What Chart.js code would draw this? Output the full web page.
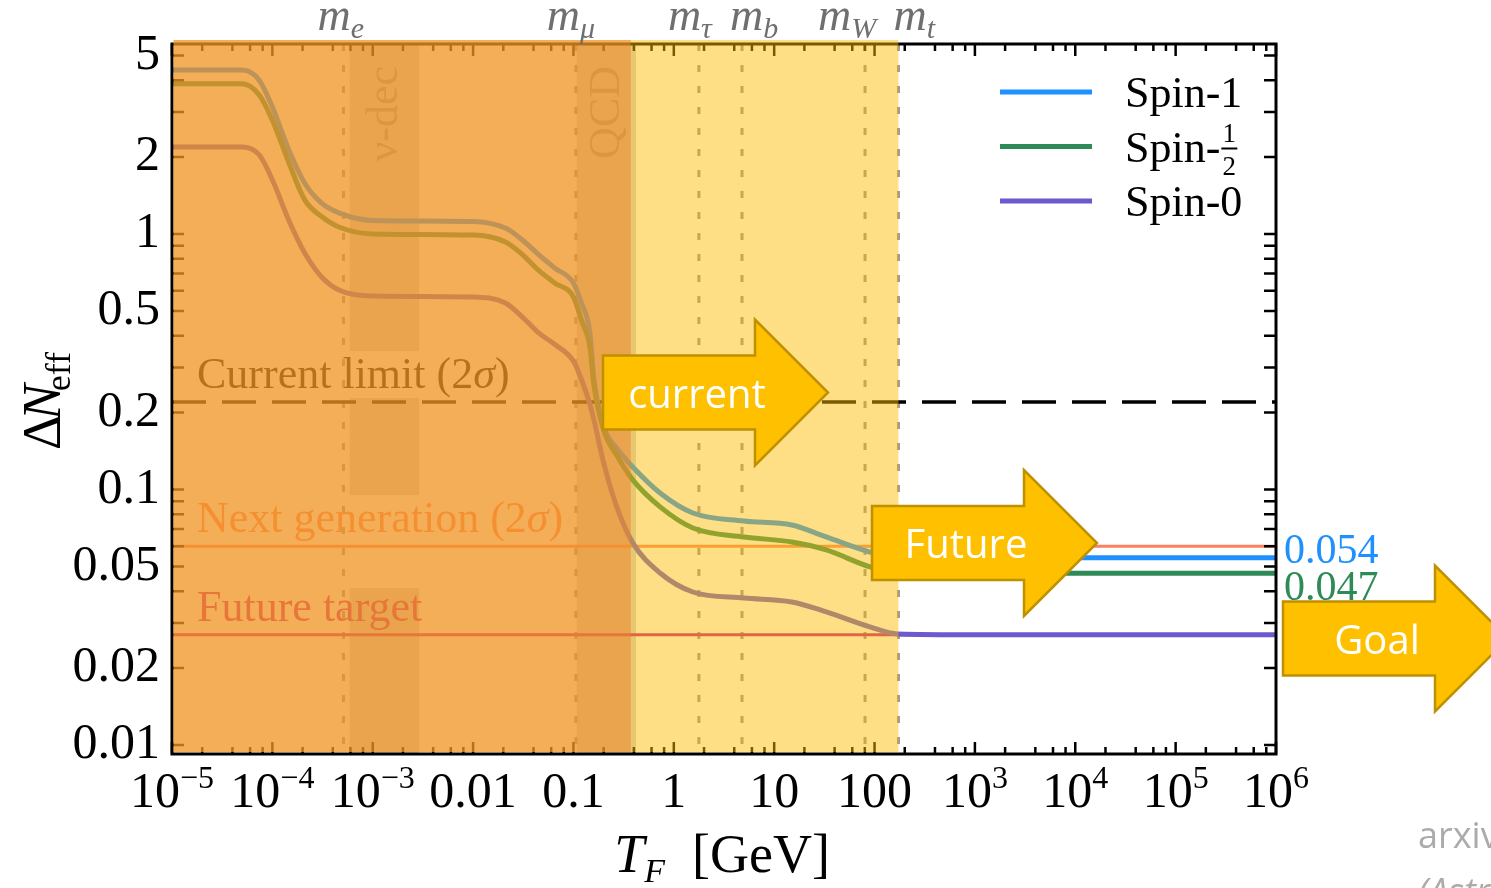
<!DOCTYPE html>
<html>
<head>
<meta charset="utf-8">
<script src="https://cdn.jsdelivr.net/npm/chart.js@4.4.1/dist/chart.umd.min.js"></script>
<style>
  html, body { margin: 0; padding: 0; background: #fff; }
</style>
</head>
<body>
<canvas id="neffChart" width="1491" height="888"></canvas>
<script>
// decoupling temperature grid (GeV) and Delta N_eff
const temps = [1e-5, 5e-5, 7.4e-5, 1e-4, 1.46e-4, 2.1e-4, 3.1e-4, 4.6e-4, 1e-3, 0.01,
    0.021, 0.031, 0.045, 0.065, 0.1, 0.12, 0.146, 0.16, 0.2, 0.27,
    0.39, 0.73, 1.55, 5, 15, 33, 90, 170, 1e3, 1e6];
const spin1 = [4.38, 4.38, 4.0, 3.14, 2.13, 1.58, 1.32, 1.21, 1.13, 1.12,
    1.055, 0.947, 0.83, 0.736, 0.643, 0.537, 0.41, 0.27, 0.176, 0.145,
    0.1225, 0.0969, 0.0809, 0.0753, 0.0726, 0.0652, 0.0569, 0.0544, 0.054, 0.054];
const spinHalf = [3.87, 3.87, 3.5, 2.79, 1.90, 1.36, 1.17, 1.065, 1.0, 0.99,
    0.93, 0.83, 0.72, 0.643, 0.567, 0.46, 0.36, 0.256, 0.171, 0.136,
    0.109, 0.0855, 0.0707, 0.0652, 0.0623, 0.058, 0.0498, 0.0471, 0.047, 0.047];
const spin0 = [2.19, 2.19, 2.04, 1.63, 1.13, 0.843, 0.679, 0.604, 0.572, 0.567,
    0.537, 0.473, 0.41, 0.37, 0.318, 0.27, 0.215, 0.187, 0.127, 0.0855,
    0.0618, 0.0471, 0.0397, 0.0376, 0.0363, 0.0332, 0.029, 0.0272, 0.027, 0.027];

const seriesNames = ['Spin-1', 'Spin-1/2', 'Spin-0'];
const seriesColors = ['#1e90ff', '#2e8b57', '#6a5acd'];
const endLabels = ['0.054', '0.047'];

const limitValues = [0.22, 0.06, 0.027];
const limitNames = ['Current limit (2', 'Next generation (2', 'Future target'];
const limitColors = ['#000000', '#fc825f', '#c71585'];

const massNames = ['e', 'μ', 'τ', 'b', 'W', 't'];
const massValues = [0.000511, 0.1057, 1.777, 4.78, 80.4, 173];

const nuDecBand = [5.9e-4, 2.9e-3];
const qcdBand = [0.108, 0.42];
const hotRegion = [1e-5, 0.373];
const warmRegion = [0.373, 173];

const yTickValues = [0.01, 0.02, 0.05, 0.1, 0.2, 0.5, 1, 2, 5];
const xTickPowers = [-5, -4, -3, -2, -1, 0, 1, 2, 3, 4, 5, 6];

const arrowNames = ['current', 'Future', 'Goal'];

// style bits (pixels)
const massLabelDx = [-26, -29, -31, -12, -47, -5];
const labelBoxDrop = [10, 56, 0];
const arrowLeft = [603, 872, 1283];
const arrowMid = [392.5, 543, 638.5];
const SERIF = '"Liberation Serif", "Times New Roman", serif';

function pts(vals) {
    return temps.map((t, i) => ({ x: t, y: vals[i] }));
}

// parts: [text, font, dy, dx]
function rich(ctx, x, y, parts, align) {
    let w = 0;
    parts.forEach(p => { ctx.font = p[1]; w += ctx.measureText(p[0]).width + (p[3] || 0); });
    let cx = align === 'center' ? x - w / 2 : (align === 'right' ? x - w : x);
    ctx.textAlign = 'left';
    parts.forEach(p => {
        ctx.font = p[1];
        cx += p[3] || 0;
        ctx.fillText(p[0], cx, y + (p[2] || 0));
        cx += ctx.measureText(p[0]).width;
    });
    return w;
}

function drawArrow(ctx, x0, cy, text) {
    const bw = 152, bh = 74, hw = 73, hh = 146;
    ctx.beginPath();
    ctx.moveTo(x0, cy - bh / 2);
    ctx.lineTo(x0 + bw, cy - bh / 2);
    ctx.lineTo(x0 + bw, cy - hh / 2);
    ctx.lineTo(x0 + bw + hw, cy);
    ctx.lineTo(x0 + bw, cy + hh / 2);
    ctx.lineTo(x0 + bw, cy + bh / 2);
    ctx.lineTo(x0, cy + bh / 2);
    ctx.closePath();
    ctx.fillStyle = '#ffc000';
    ctx.fill();
    ctx.lineWidth = 2.5;
    ctx.strokeStyle = '#bf9000';
    ctx.setLineDash([]);
    ctx.stroke();
    ctx.fillStyle = '#fff';
    ctx.font = '40px "Open Sans", Lato, sans-serif';
    ctx.textAlign = 'center';
    ctx.textBaseline = 'alphabetic';
    ctx.fillText(text, x0 + bw / 2 + 18, cy + 15);
}

const decor = {
    id: 'decor',
    beforeDatasetsDraw(chart) {
        const { ctx, chartArea: a, scales: { x, y } } = chart;
        ctx.save();
        // grey bands for nu decoupling and QCD transition
        ctx.fillStyle = '#d4d4d4';
        [nuDecBand, qcdBand].forEach(b => {
            const x0 = x.getPixelForValue(b[0]), x1 = x.getPixelForValue(b[1]);
            ctx.fillRect(x0, a.top, x1 - x0, a.bottom - a.top);
        });
        // band names
        ctx.fillStyle = '#9c9c9c';
        ctx.textBaseline = 'alphabetic';
        [[nuDecBand, 'ν-dec', 44], [qcdBand, 'QCD', 44]].forEach(b => {
            const xc = (x.getPixelForValue(b[0][0]) + x.getPixelForValue(b[0][1])) / 2;
            ctx.save();
            ctx.translate(xc + 13, a.top + 22);
            ctx.rotate(-Math.PI / 2);
            ctx.font = b[2] + 'px ' + SERIF;
            ctx.textAlign = 'right';
            ctx.fillText(b[1], 0, 0);
            ctx.restore();
        });
        // label boxes and labels of the limit lines
        ctx.textBaseline = 'alphabetic';
        limitNames.forEach((name, i) => {
            const base = y.getPixelForValue(limitValues[i]) - 14;
            const parts = [[name, '44px ' + SERIF]];
            if (name.endsWith('(2')) {
                parts.push(['σ', 'italic 44px ' + SERIF]);
                parts.push([')', '44px ' + SERIF]);
            }
            let w = 0;
            parts.forEach(p => { ctx.font = p[1]; w += ctx.measureText(p[0]).width; });
            if (labelBoxDrop[i]) {
                ctx.fillStyle = '#fff';
                ctx.fillRect(a.left + 21, base - 37, w + 8, 37 + labelBoxDrop[i]);
            }
            ctx.fillStyle = limitColors[i];
            rich(ctx, a.left + 25, base, parts, 'left');
        });
        // dotted lines at particle masses
        ctx.strokeStyle = '#969696';
        ctx.lineWidth = 3;
        ctx.setLineDash([7, 14]);
        massValues.forEach(m => {
            const px = x.getPixelForValue(m);
            ctx.beginPath();
            ctx.moveTo(px, a.top);
            ctx.lineTo(px, a.bottom);
            ctx.stroke();
        });
        ctx.restore();
    },
    afterDatasetsDraw(chart) {
        const { ctx, chartArea: a, scales: { x, y } } = chart;
        ctx.save();
        ctx.setLineDash([]);
        // frame and inward ticks
        ctx.strokeStyle = '#000';
        ctx.lineWidth = 3;
        ctx.strokeRect(a.left, a.top, a.right - a.left, a.bottom - a.top);
        ctx.lineWidth = 2.5;
        ctx.beginPath();
        for (let p = -5; p <= 6; p++) {
            [1, 2, 4, 6, 8].forEach(k => {
                const v = k * Math.pow(10, p);
                if (v > 1e6 * 1.0001) return;
                const px = x.getPixelForValue(v);
                const len = k === 1 ? 12 : 7;
                ctx.moveTo(px, a.bottom); ctx.lineTo(px, a.bottom - len);
                ctx.moveTo(px, a.top); ctx.lineTo(px, a.top + len);
            });
        }
        for (let p = -3; p <= 0; p++) {
            for (let k = 1; k <= 9; k++) {
                const v = k * Math.pow(10, p);
                if (v < y.min || v > y.max) continue;
                const py = y.getPixelForValue(v);
                ctx.moveTo(a.left, py); ctx.lineTo(a.left + 12, py);
                ctx.moveTo(a.right, py); ctx.lineTo(a.right - 12, py);
            }
        }
        ctx.stroke();

        // excluded / constrained regions laid over everything inside
        const hx0 = a.left + 1.5, hx1 = x.getPixelForValue(hotRegion[1]);
        const wx1 = x.getPixelForValue(warmRegion[1]);
        ctx.fillStyle = 'rgba(241,149,34,0.76)';
        ctx.fillRect(hx0, a.top - 4, hx1 - hx0, a.bottom - 2 - (a.top - 4));
        ctx.fillStyle = 'rgba(252,188,0,0.48)';
        ctx.fillRect(hx1, a.top - 4, wx1 - hx1, a.bottom - 2 - (a.top - 4));

        // arrows
        arrowNames.forEach((t, i) => drawArrow(ctx, arrowLeft[i], arrowMid[i], t));

        // legend
        ctx.textBaseline = 'alphabetic';
        seriesNames.forEach((name, i) => {
            const ly = 92 + i * 54.5;
            ctx.strokeStyle = seriesColors[i];
            ctx.lineWidth = 5;
            ctx.beginPath();
            ctx.moveTo(1000, ly); ctx.lineTo(1092, ly);
            ctx.stroke();
            ctx.fillStyle = '#000';
            ctx.font = '44px ' + SERIF;
            ctx.textAlign = 'left';
            if (name.endsWith('1/2')) {
                ctx.fillText('Spin-', 1125, ly + 15);
                const fx = 1125 + ctx.measureText('Spin-').width + 9;
                ctx.font = '27px ' + SERIF;
                ctx.textAlign = 'center';
                ctx.fillText('1', fx, ly - 5);
                ctx.fillText('2', fx, ly + 28);
                ctx.fillRect(fx - 8, ly + 1, 16, 2);
            } else {
                ctx.fillText(name, 1125, ly + 15);
            }
        });

        // values reached above the top mass
        ctx.font = '42px ' + SERIF;
        ctx.textAlign = 'left';
        ctx.fillStyle = seriesColors[0];
        ctx.fillText(endLabels[0], a.right + 8, y.getPixelForValue(spin1[spin1.length - 1]) + 5);
        ctx.fillStyle = seriesColors[1];
        ctx.fillText(endLabels[1], a.right + 8, y.getPixelForValue(spinHalf[spinHalf.length - 1]) + 27);

        // mass labels on top
        ctx.fillStyle = '#6f6f6f';
        massNames.forEach((n, i) => {
            const px = x.getPixelForValue(massValues[i]) + massLabelDx[i];
            rich(ctx, px, 30, [['m', 'italic 46px ' + SERIF], [n, 'italic 30px ' + SERIF, 8]], 'left');
        });

        // x tick labels
        ctx.fillStyle = '#000';
        xTickPowers.forEach(p => {
            const px = x.getPixelForValue(Math.pow(10, p));
            if (p >= -2 && p <= 2) {
                const s = p < 0 ? (p === -2 ? '0.01' : '0.1') : String(Math.pow(10, p));
                rich(ctx, px, 807, [[s, '50px ' + SERIF]], 'center');
            } else {
                const sup = p < 0 ? '\u2212' + (-p) : String(p);
                rich(ctx, px, 807, [['10', '50px ' + SERIF], [sup, '32px ' + SERIF, -19]], 'center');
            }
        });

        // axis titles
        rich(ctx, 722, 872, [['T', 'italic 54px ' + SERIF], ['F', 'italic 34px ' + SERIF, 10],
            ['  [GeV]', '54px ' + SERIF]], 'center');
        ctx.save();
        ctx.translate(60, 401);
        ctx.rotate(-Math.PI / 2);
        rich(ctx, 0, 0, [['Δ', '54px ' + SERIF], ['N', 'italic 54px ' + SERIF, 0, -5],
            ['eff', '36px ' + SERIF, 10, -7]], 'center');
        ctx.restore();

        // source note, running off the right edge
        ctx.fillStyle = '#ababab';
        ctx.font = '36px "Open Sans", sans-serif';
        ctx.textAlign = 'left';
        ctx.fillText('arxiv:2203.', 1418, 848);
        ctx.font = 'italic 36px "Open Sans", sans-serif';
        ctx.fillText('(Astro', 1418, 904);
        ctx.restore();
    }
};

const refSets = limitValues.map((v, i) => ({
    label: limitNames[i],
    data: [{ x: 1e-5, y: v }, { x: 1e6, y: v }],
    borderColor: limitColors[i],
    borderWidth: i === 0 ? 3.5 : 3,
    borderDash: i === 0 ? [34, 16] : [],
    pointRadius: 0,
    order: 10
}));

const curveSets = [spin1, spinHalf, spin0].map((vals, i) => ({
    label: seriesNames[i],
    data: pts(vals),
    borderColor: seriesColors[i],
    borderWidth: 5,
    pointRadius: 0,
    cubicInterpolationMode: 'monotone',
    order: 3 - i
}));

const neffCtx = document.getElementById('neffChart').getContext('2d');
new Chart(neffCtx, {
    type: 'line',
    data: { datasets: refSets.concat(curveSets) },
    options: {
        responsive: false,
        devicePixelRatio: 1,
        animation: false,
        layout: { padding: { top: 44, right: 215, left: 0, bottom: 0 } },
        plugins: { legend: { display: false }, tooltip: { enabled: false } },
        scales: {
            x: {
                type: 'logarithmic',
                min: 1e-5,
                max: 1e6,
                grid: { display: false },
                border: { display: false },
                ticks: { display: false },
                afterFit: s => { s.height = 134; }
            },
            y: {
                type: 'logarithmic',
                min: 0.00922,
                max: 5.54,
                grid: { display: false, drawTicks: false },
                border: { display: false },
                afterBuildTicks: s => { s.ticks = yTickValues.map(v => ({ value: v })); },
                afterFit: s => { s.width = 172; },
                ticks: {
                    autoSkip: false,
                    padding: 12,
                    color: '#000',
                    font: { family: 'Liberation Serif', size: 50 },
                    callback: v => String(v)
                }
            }
        }
    },
    plugins: [decor]
});
</script>
</body>
</html>
